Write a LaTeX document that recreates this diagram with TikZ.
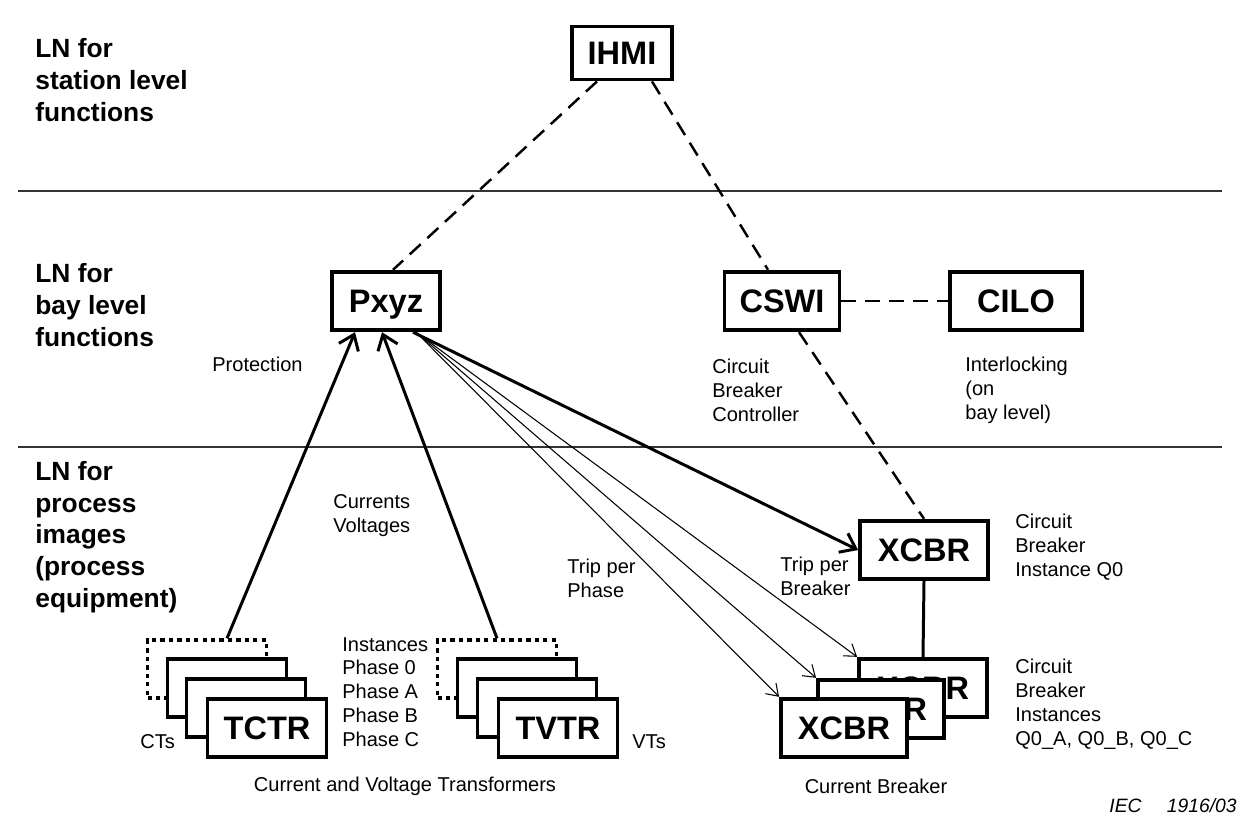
\documentclass[tikz,border=0pt]{standalone}
\usepackage{fontspec}
\setmainfont{Liberation Sans}
\usetikzlibrary{arrows.meta}

\begin{document}
\begin{tikzpicture}[
        x=0.02cm, y=-0.02cm,
        lnbox/.style={draw, line width=2.2pt, fill=white, inner sep=0pt, minimum height=1.17cm, text height=13.3pt, text depth=0pt, font=\fontsize{18.5}{20}\selectfont\bfseries},
        stackbox/.style={lnbox, minimum width=2.38cm, minimum height=1.15cm},
        dotbox/.style={stackbox, dash pattern=on 2.4pt off 2.4pt},
        note/.style={align=left, inner sep=0pt, anchor=west, font=\fontsize{11.4}{13.6}\selectfont},
        lvltext/.style={align=left, inner sep=0pt, anchor=west, font=\fontsize{15}{18.1}\selectfont\bfseries},
        conn/.style={line width=1.4pt, dash pattern=on 0.3cm off 0.18cm},
        sig/.style={line width=1.7pt, -{Straight Barb[length=0.28cm, width=0.42cm, line width=1.7pt]}},
        trip/.style={line width=0.6pt, -{Straight Barb[length=0.22cm, width=0.3cm, line width=0.6pt]}}
    ]
        \useasboundingbox (0,0) rectangle (1254,832);

        % Các đường phân tầng
        \draw[line width=0.6pt, black!80] (18,191) -- (1222,191);
        \draw[line width=0.6pt, black!80] (18,447) -- (1222,447);

        % Nhãn các tầng
        \node[lvltext] (lvlstation) at (35,80) {LN for\\station level\\functions};
        \node[lvltext] (lvlbay) at (35,305) {LN for\\bay level\\functions};
        \node[lvltext] (lvlproc) at (35,537) {LN for\\process\\images\\(process\\equipment)};

        % Các nút chính
        \node[lnbox, minimum width=2cm, minimum height=1.06cm] (IHMI) at (622,53) {IHMI};
        \node[lnbox, minimum width=2.16cm] (Pxyz) at (386,301) {Pxyz};
        \node[lnbox, minimum width=2.3cm] (CSWI) at (782,301) {CSWI};
        \node[lnbox, minimum width=2.64cm] (CILO) at (1016,301) {CILO};
        \node[lnbox, minimum width=2.56cm] (XCBR) at (924,550) {XCBR};

        % Chồng XCBR theo pha
        \node[lnbox, minimum width=2.56cm] (XCBRa) at (923,688) {XCBR};
        \node[lnbox, minimum width=2.52cm] (XCBRb) at (881,709) {XCBR};
        \node[lnbox, minimum width=2.52cm] (XCBRc) at (844,728) {XCBR};

        % Chồng TCTR
        \node[dotbox] (CT0) at (207,669) {};
        \node[stackbox] (CTA) at (227,688) {};
        \node[stackbox] (CTB) at (246,708) {};
        \node[stackbox] (TCTR) at (267,728) {TCTR};

        % Chồng TVTR
        \node[dotbox] (VT0) at (497,669) {};
        \node[stackbox] (VTA) at (517,688) {};
        \node[stackbox] (VTB) at (537,708) {};
        \node[stackbox] (TVTR) at (558,728) {TVTR};

        % Chú thích
        \node[note] (prot) at (212,364) {Protection};
        \node[note] (curvolt) at (333,516) {Currents\\Voltages};
        \node[note] (tripph) at (567,578) {Trip per\\Phase};
        \node[note] (tripbr) at (780,576) {Trip per\\Breaker};
        \node[note] (cbctrl) at (712,390) {Circuit\\Breaker\\Controller};
        \node[note] (interl) at (965,390) {Interlocking\\(on\\bay level)};
        \node[note] (cbq0) at (1015,547) {Circuit\\Breaker\\Instance Q0};
        \node[note] (inst) at (342,692) {Instances\\Phase 0\\Phase A\\Phase B\\Phase C};
        \node[note] (cts) at (140,742) {CTs};
        \node[note] (vts) at (632,742) {VTs};
        \node[note] (cbinst) at (1015,704) {Circuit\\Breaker\\Instances\\Q0\_A, Q0\_B, Q0\_C};
        \node[note, anchor=center] (cvt) at (405,786) {Current and Voltage Transformers};
        \node[note, anchor=center] (cbr) at (876,786) {Current Breaker};
        \node[note, anchor=east, font=\fontsize{11}{13.6}\selectfont\itshape] (iec) at (1237,806) {IEC\hspace{1.3em}1916/03};

        % Liên kết nét đứt
        \draw[conn] ([xshift=-0.5cm]IHMI.south) -- ([xshift=0.14cm]Pxyz.north);
        \draw[conn] ([xshift=0.6cm]IHMI.south) -- ([xshift=-0.28cm]CSWI.north);
        \draw[conn] (CSWI.east) -- (CILO.west);
        \draw[conn] ([xshift=0.34cm]CSWI.south) -- (XCBR.north);
        \draw[line width=1.7pt] (XCBR.south) -- (XCBRa.north);

        % Các mũi tên tín hiệu
        \draw[sig] ([xshift=0.4cm]CT0.north) -- ([xshift=-0.62cm]Pxyz.south);
        \draw[sig] (VT0.north) -- ([xshift=-0.08cm]Pxyz.south);
        \draw[sig] ([xshift=0.54cm]Pxyz.south) -- (XCBR.west);
        \draw[trip] ([xshift=0.6cm]Pxyz.south) -- (XCBRa.north west);
        \draw[trip] ([xshift=0.6cm]Pxyz.south) -- (XCBRb.north west);
        \draw[trip] ([xshift=0.6cm]Pxyz.south) -- (XCBRc.north west);
    \end{tikzpicture}
\end{document}
